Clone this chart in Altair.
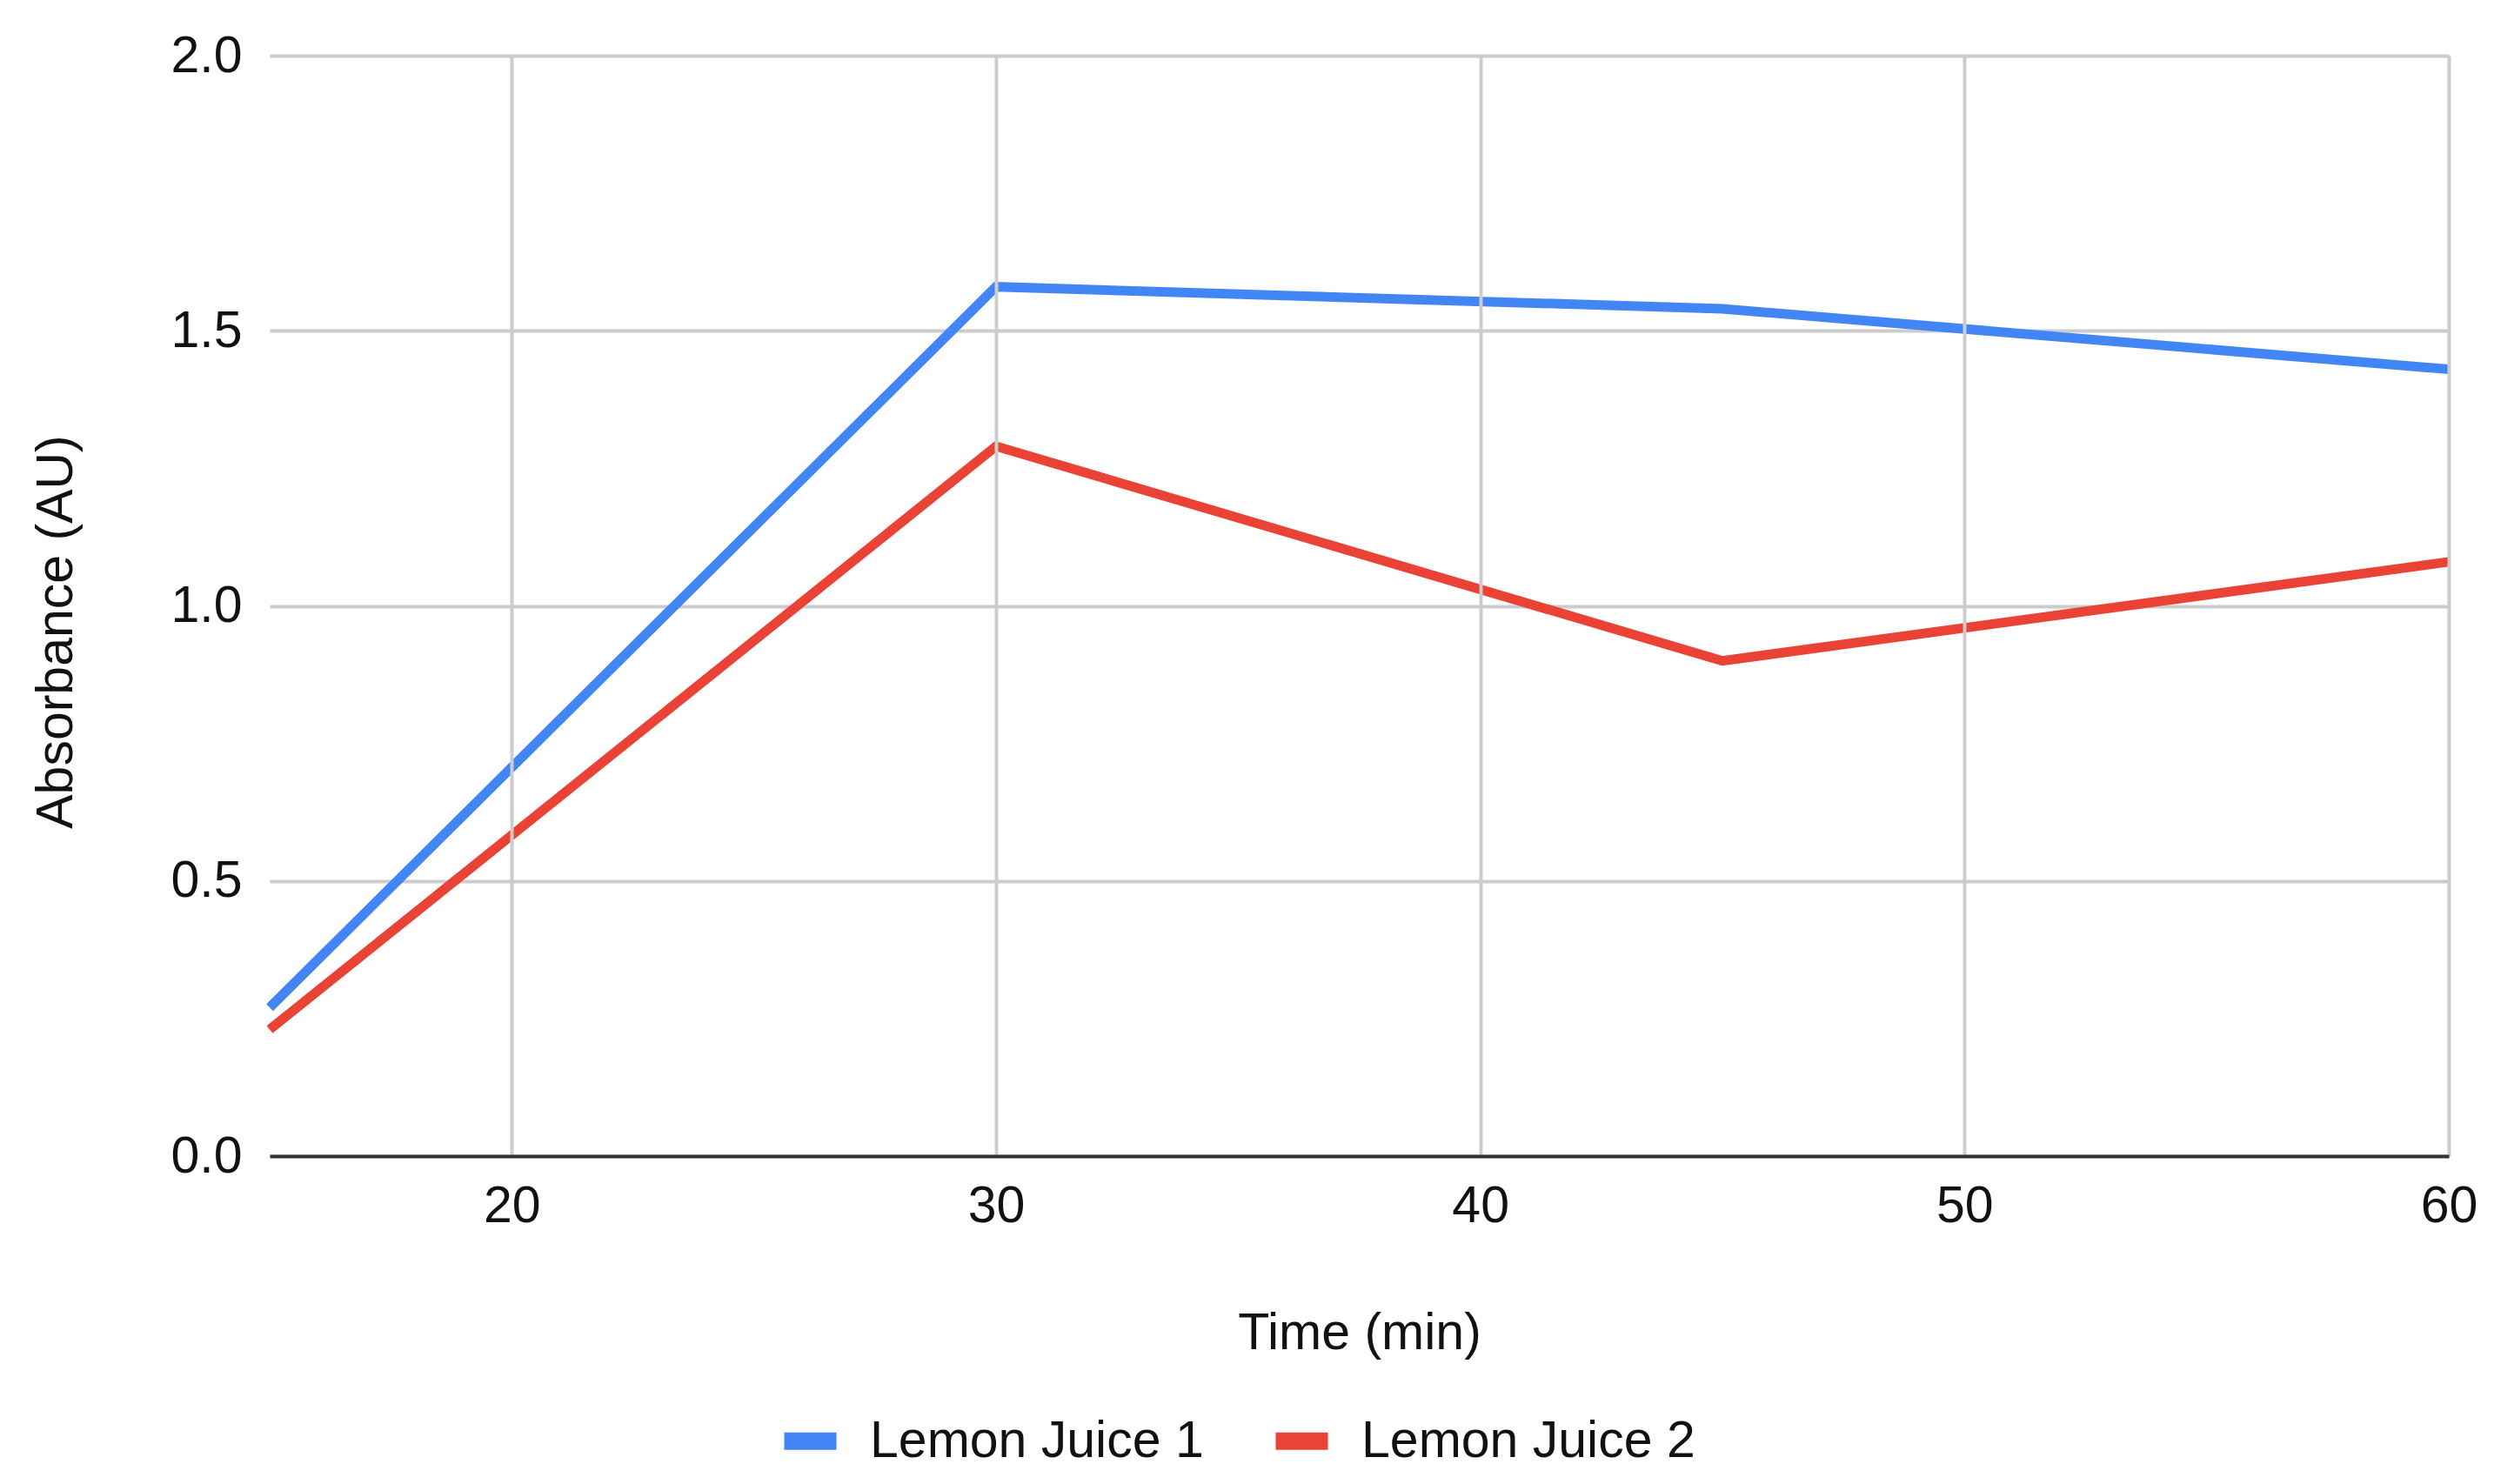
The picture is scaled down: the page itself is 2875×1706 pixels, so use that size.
import altair as alt
import pandas as pd

time_min = [15, 30, 45, 60]
lemon_juice_1 = [0.27, 1.58, 1.54, 1.43]
lemon_juice_2 = [0.23, 1.29, 0.90, 1.08]
series_names = ["Lemon Juice 1", "Lemon Juice 2"]
series_colors = ["#4285F4", "#EA4335"]
x_ticks = [20, 30, 40, 50, 60]
y_ticks = [0.0, 0.5, 1.0, 1.5, 2.0]

rows = []
for t, v in zip(time_min, lemon_juice_1):
    rows.append({"Time": t, "Absorbance": v, "Series": series_names[0]})
for t, v in zip(time_min, lemon_juice_2):
    rows.append({"Time": t, "Absorbance": v, "Series": series_names[1]})
df = pd.DataFrame(rows)

FONT = "Liberation Sans"
TXT = "#111111"
FS = 59

chart = alt.Chart(df).mark_line(strokeWidth=11, strokeJoin="miter", clip=False).encode(
    x=alt.X(
        "Time:Q",
        scale=alt.Scale(domain=[15, 60], nice=False, zero=False),
        axis=alt.Axis(
            title="Time (min)",
            values=x_ticks,
            format="d",
            grid=True,
            gridColor="#cccccc",
            gridWidth=4,
            ticks=False,
            domain=True,
            domainColor="#333333",
            domainWidth=4,
            labelFont=FONT,
            labelFontSize=FS,
            labelColor=TXT,
            labelPadding=28,
            labelBaseline="top",
            labelFlush=False,
            labelOverlap=False,
            titleFont=FONT,
            titleFontSize=FS,
            titleFontWeight="normal",
            titleColor=TXT,
            titleBaseline="alphabetic",
            titleY=221,
            zindex=1,
        ),
    ),
    y=alt.Y(
        "Absorbance:Q",
        scale=alt.Scale(domain=[0, 2], nice=False),
        axis=alt.Axis(
            title="Absorbance (AU)",
            values=y_ticks,
            format=".1f",
            grid=True,
            gridColor="#cccccc",
            gridWidth=4,
            ticks=False,
            domain=False,
            labelFont=FONT,
            labelFontSize=FS,
            labelColor=TXT,
            labelPadding=32,
            labelFlush=False,
            labelOverlap=False,
            titleFont=FONT,
            titleFontSize=FS,
            titleFontWeight="normal",
            titleColor=TXT,
            titleAngle=270,
            titleBaseline="alphabetic",
            titleX=-228,
            titleY=662,
            titleAlign="center",
        ),
    ),
    color=alt.Color(
        "Series:N",
        scale=alt.Scale(domain=series_names, range=series_colors),
        legend=alt.Legend(
            title=None,
            orient="none",
            direction="horizontal",
            legendX=592,
            legendY=1563,
            symbolType="M-3,0H3",
            symbolSize=400,
            symbolStrokeWidth=20,
            labelFont=FONT,
            labelFontSize=FS,
            labelColor=TXT,
            labelLimit=0,
            labelOffset=39,
            columnPadding=42,
            padding=0,
        ),
    ),
).properties(
    width=2505,
    height=1265,
    autosize=alt.AutoSizeParams(type="none"),
    padding={"left": 302, "top": 56, "right": 50, "bottom": 360},
).configure_view(stroke=None)

chart.save("out.html", embed_options={"renderer": "svg", "actions": False})
